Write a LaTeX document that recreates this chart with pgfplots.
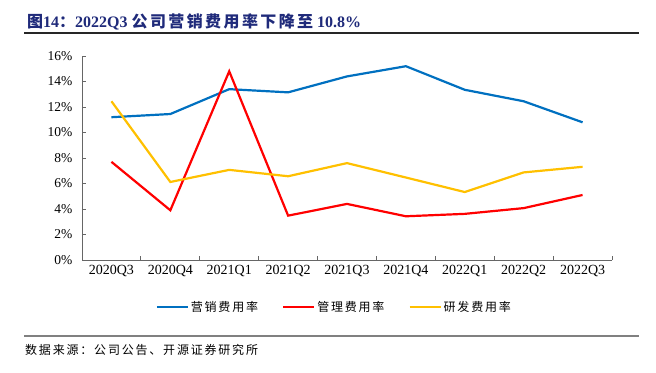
\documentclass[border=0pt]{standalone}
\usepackage{fontspec}
\setmainfont{Liberation Serif}
\newfontfamily\cjk{Noto Sans CJK SC}
\newfontfamily\cjkl[LetterSpace=15]{Noto Sans CJK SC}
\usepackage{pgfplots}
\pgfplotsset{compat=1.18}
\definecolor{cblue}{HTML}{0070C0}
\definecolor{cred}{HTML}{FF0000}
\definecolor{cyel}{HTML}{FFC000}
\definecolor{ctitle}{HTML}{1F2A7A}
\begin{document}
\begin{tikzpicture}[x=1bp,y=1bp]
\useasboundingbox (0,0) rectangle (656,-372);
\node[anchor=base west, inner sep=0pt, text=ctitle, font=\fontsize{16bp}{18bp}\selectfont\bfseries] at (27,-27)
  {{\cjk 图}14{\cjk ：}2022Q3 {\cjkl 公司营销费用率下降至} 10.8\%};
\draw[line width=1.2bp, black!85] (24,-33) -- (639,-33);
\draw[line width=1.2bp, black!50] (24,-336) -- (639,-336);
\node[anchor=base west, inner sep=0pt, font=\fontsize{12bp}{14bp}\selectfont] at (25,-354)
  {\cjkl 数据来源：公司公告、开源证券研究所};
\begin{axis}[
  at={(82bp,-260bp)}, anchor=south west,
  scale only axis, width=530bp, height=204bp,
  xmin=-0.5, xmax=8.5, ymin=0, ymax=16,
  axis lines*=left,
  axis line style={black!60, line width=0.8bp},
  xtick={0,...,8},
  xticklabels={2020Q3,2020Q4,2021Q1,2021Q2,2021Q3,2021Q4,2022Q1,2022Q2,2022Q3},
  major x tick style={draw=none},
  minor xtick={-0.5,0.5,...,8.5},
  minor tick length=4bp,
  minor x tick style={black!60, line width=0.8bp},
  ytick={0,2,...,16},
  yticklabel={\pgfmathprintnumber{\tick}\%},
  major tick length=4bp,
  major y tick style={black!60, line width=0.8bp},
  /pgf/number format/assume math mode=true,
  xticklabel style={font=\fontsize{14bp}{16bp}\selectfont, yshift=-2bp},
  yticklabel style={font=\fontsize{13.5bp}{16bp}\selectfont, xshift=-6bp},
  legend columns=3,
  legend style={at={(0.476,-0.23)}, anchor=center, draw=none, fill=none,
    font=\fontsize{12bp}{14bp}\selectfont\cjkl,
    /tikz/every even column/.append style={column sep=22bp}},
  legend image code/.code={\draw[#1, line width=2.2bp] (0bp,0bp) -- (31bp,0bp);},
  every axis plot/.append style={line width=2.2bp},
  clip=false,
]
\addplot[cblue] coordinates {(0,11.2) (1,11.45) (2,13.4) (3,13.15) (4,14.4) (5,15.2) (6,13.35) (7,12.45) (8,10.8)};
\addlegendentry{营销费用率}
\addplot[cred] coordinates {(0,7.7) (1,3.9) (2,14.8) (3,3.48) (4,4.4) (5,3.43) (6,3.62) (7,4.07) (8,5.1)};
\addlegendentry{管理费用率}
\addplot[cyel] coordinates {(0,12.45) (1,6.12) (2,7.07) (3,6.57) (4,7.6) (5,6.47) (6,5.33) (7,6.87) (8,7.31)};
\addlegendentry{研发费用率}
\end{axis}
\end{tikzpicture}
\end{document}
